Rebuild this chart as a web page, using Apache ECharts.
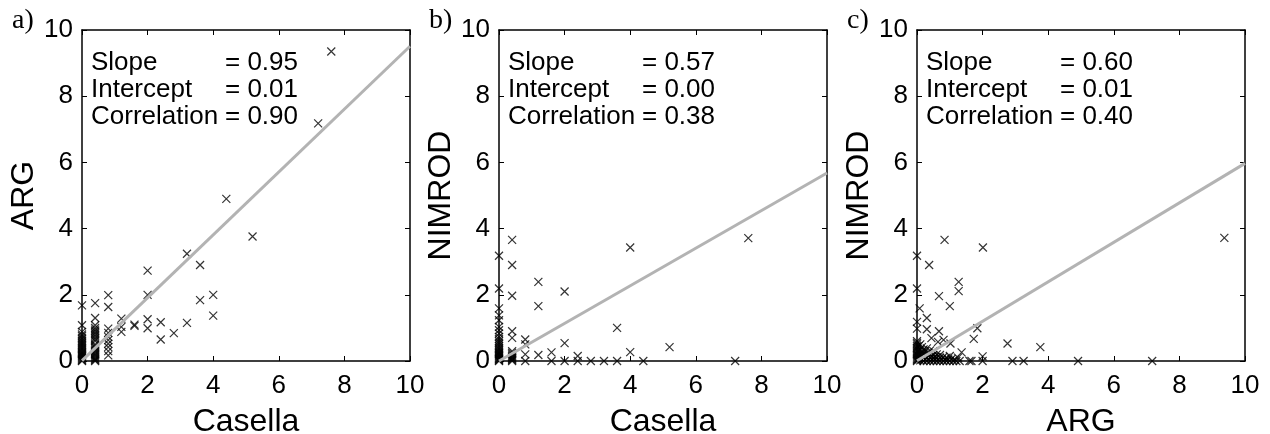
<!DOCTYPE html>
<html><head><meta charset="utf-8">
<script src="https://cdn.jsdelivr.net/npm/echarts@6/dist/echarts.min.js"></script>
<style>html,body{margin:0;padding:0;background:#fff}#c{width:1270px;height:434px}</style>
</head><body><div id="c"></div>
<script>
// ---------- data ----------
const panelLabels = ['a)', 'b)', 'c)'];
const xNames = ['Casella', 'Casella', 'ARG'];
const yNames = ['ARG', 'NIMROD', 'NIMROD'];
const tickValues = [0, 2, 4, 6, 8, 10];
const statNames = ['Slope', 'Intercept', 'Correlation'];
const slopes = ['0.95', '0.57', '0.60'];
const intercepts = ['0.01', '0.00', '0.01'];
const correlations = ['0.90', '0.38', '0.40'];

// regression lines
const fitA = [[0, 0.01], [10, 9.51]];
const fitB = [[0, 0.0], [10, 5.68]];
const fitC = [[0, 0.01], [10, 5.97]];

// a) Casella vs ARG
const pointsA = [
  [0,0],[0,0.02],[0,0.04],[0,0.07],[0,0.1],[0,0.13],[0,0.16],[0,0.19],[0,0.22],[0,0.25],[0,0.28],[0,0.32],
  [0,0.36],[0,0.4],[0,0.44],[0,0.48],[0,0.52],[0,0.56],[0,0.6],[0,0.65],[0,0.7],[0,0.75],[0,0.8],[0,0.88],
  [0,1.08],[0,1.68],
  [0.4,0],[0.4,0.03],[0.4,0.06],[0.4,0.1],[0.4,0.14],[0.4,0.18],[0.4,0.22],[0.4,0.26],[0.4,0.3],[0.4,0.34],
  [0.4,0.38],[0.4,0.42],[0.4,0.46],[0.4,0.5],[0.4,0.6],[0.4,0.65],[0.4,0.7],[0.4,0.75],[0.4,0.8],
  [0.4,0.85],[0.4,0.9],[0.4,0.95],[0.4,1.0],[0.4,1.08],[0.4,1.3],[0.4,1.75],
  [0.8,0.17],[0.8,0.3],[0.8,0.42],[0.8,0.52],[0.8,0.63],[0.8,0.73],[0.8,0.85],[0.8,0.98],[0.8,1.63],[0.8,1.99],
  [1.2,0.88],[1.2,1.03],[1.2,1.28],
  [1.6,1.06],[1.6,1.1],
  [2.0,0.99],[2.0,1.26],[2.0,2.0],[2.0,2.73],
  [2.4,0.65],[2.4,1.17],
  [2.8,0.84],
  [3.2,1.15],[3.2,3.24],
  [3.6,1.84],[3.6,2.9],
  [4.0,1.37],[4.0,2.0],
  [4.4,4.9],[5.2,3.76],[7.2,7.18],[7.6,9.35]
];

// b) Casella vs NIMROD
const pointsB = [
  [0,0],[0,0.02],[0,0.04],[0,0.06],[0,0.08],[0,0.1],[0,0.13],[0,0.16],[0,0.19],[0,0.22],[0,0.25],[0,0.28],
  [0,0.32],[0,0.36],[0,0.4],[0,0.45],[0,0.5],[0,0.55],[0,0.6],[0,0.66],[0,0.73],[0,0.83],[0,0.93],[0,1.03],
  [0,1.23],[0,1.38],[0,1.59],[0,2.19],[0,3.18],
  [0.4,0],[0.4,0.03],[0.4,0.06],[0.4,0.09],[0.4,0.12],[0.4,0.16],[0.4,0.2],[0.4,0.25],[0.4,0.3],
  [0.4,0.7],[0.4,0.9],[0.4,1.97],[0.4,2.9],[0.4,3.66],
  [0.8,0],[0.8,0.2],[0.8,0.5],[0.8,0.65],
  [1.2,0.18],[1.2,1.66],[1.2,2.39],
  [1.6,0],[1.6,0.26],
  [2.0,0],[2.0,0.54],[2.0,2.1],
  [2.4,0],[2.4,0.15],
  [2.8,0],[3.2,0],
  [3.6,0],[3.6,1.0],
  [4.0,0.27],[4.0,3.43],
  [4.4,0],[5.2,0.42],[7.2,0],[7.6,3.71]
];

// c) ARG vs NIMROD
const pointsC = [
  [0,0],[0,0.03],[0,0.06],[0,0.1],[0,0.14],[0,0.18],[0,0.22],[0,0.26],[0,0.3],[0,0.35],[0,0.4],[0,0.45],
  [0,0.5],[0,0.55],[0,0.6],[0,0.98],[0,1.18],[0,2.19],[0,3.18],
  [0.05,0.05],[0.05,0.15],[0.05,0.3],[0.05,0.45],[0.1,0.02],[0.1,0.1],[0.1,0.2],[0.1,0.35],[0.1,0.5],
  [0.15,0.05],[0.15,0.15],[0.15,0.28],[0.15,0.42],[0.2,0],[0.2,0.1],[0.2,0.22],[0.2,0.35],
  [0.25,0.05],[0.25,0.15],[0.25,0.3],[0.3,0],[0.3,0.1],[0.3,0.2],[0.3,0.38],[0.35,0.05],[0.35,0.15],
  [0.35,0.25],[0.4,0],[0.4,0.1],[0.4,0.2],[0.4,0.32],[0.45,0.04],[0.45,0.14],[0.5,0],[0.5,0.08],
  [0.5,0.18],[0.5,0.3],[0.55,0.05],[0.55,0.12],[0.6,0],[0.6,0.1],[0.6,0.2],[0.65,0.04],[0.7,0],
  [0.7,0.1],[0.7,0.18],[0.75,0.05],[0.8,0],[0.8,0.12],[0.85,0.04],[0.9,0],[0.9,0.1],[0.95,0.05],
  [1.0,0],[1.0,0.15],[1.05,0.06],[1.1,0],[1.15,0.04],[1.2,0],[1.25,0.1],[1.3,0],
  [0.08,1.59],[0.3,0.96],[0.3,1.3],[0.37,2.9],[0.44,0.69],[0.64,0.58],[0.67,0.9],[0.67,1.96],
  [0.81,0.64],[0.84,3.66],[1.0,1.66],[1.02,0.53],[1.27,2.11],[1.27,2.39],[1.36,0.26],
  [1.6,0],[1.66,0],[1.73,0.67],[1.84,0.99],[2.0,0],[2.0,0.14],[2.01,3.43],[2.76,0.53],
  [2.91,0],[3.25,0],[3.76,0.42],[4.91,0],[7.17,0],[9.37,3.72]
];

const allPoints = [pointsA, pointsB, pointsC];
const allFits = [fitA, fitB, fitC];

// ---------- layout ----------
const gridLefts = [82, 499, 917];
const gridTop = 30, gridW = 328, gridH = 331;
const FONT = '"Liberation Sans", Arial, sans-serif';
const crossPath = 'path://M0,0L10,10M10,0L0,10';

const grids = [], xAxes = [], yAxes = [], series = [], graphics = [];
gridLefts.forEach((gl, i) => {
  grids.push({left: gl, top: gridTop, width: gridW, height: gridH, containLabel: false, outerBoundsMode: 'none'});
  const common = {
    type: 'value', min: 0, max: 10, interval: 2, gridIndex: i,
    axisLine: {show: true, onZero: false, lineStyle: {color: '#000', width: 1.5}},
    axisTick: {show: true, inside: true, length: 5, lineStyle: {color: '#000', width: 1}},
    splitLine: {show: false}
  };
  xAxes.push(Object.assign({}, common, {
    position: 'bottom', name: xNames[i], nameLocation: 'middle', nameGap: 45,
    nameTextStyle: {color: '#000', fontSize: 32, fontFamily: FONT},
    axisLabel: {color: '#000', fontSize: 26, fontFamily: FONT, margin: 12, showMinLabel: true, showMaxLabel: true}
  }));
  xAxes.push(Object.assign({}, common, {position: 'top', axisLabel: {show: false}}));
  yAxes.push(Object.assign({}, common, {
    position: 'left', name: yNames[i], nameLocation: 'middle', nameGap: 42, nameRotate: 90,
    nameTextStyle: {color: '#000', fontSize: 32, fontFamily: FONT},
    axisLabel: {color: '#000', fontSize: 26, fontFamily: FONT, margin: 9, showMinLabel: true, showMaxLabel: true}
  }));
  yAxes.push(Object.assign({}, common, {position: 'right', axisLabel: {show: false}}));

  series.push({
    type: 'scatter', xAxisIndex: 2 * i, yAxisIndex: 2 * i,
    data: allPoints[i], symbol: crossPath, symbolSize: 8,
    itemStyle: {color: 'rgba(0,0,0,0)', borderColor: '#000', borderWidth: 1.2},
    emphasis: {disabled: true}, silent: true, z: 2
  });
  series.push({
    type: 'line', xAxisIndex: 2 * i, yAxisIndex: 2 * i,
    data: allFits[i], showSymbol: false, symbol: 'none',
    lineStyle: {color: '#b3b3b3', width: 3}, silent: true, z: 3
  });

  graphics.push({type: 'text', left: gl - 70, top: 7,
    style: {text: panelLabels[i], font: '28px "Liberation Serif", "Times New Roman", serif', fill: '#000'}});
  const vals = [slopes[i], intercepts[i], correlations[i]];
  const tops = [50, 77, 104];
  statNames.forEach((nm, j) => {
    graphics.push({type: 'text', left: gl + 9, top: tops[j],
      style: {text: nm, font: '26px ' + FONT, fill: '#000'}});
    graphics.push({type: 'text', left: gl + 143, top: tops[j],
      style: {text: '= ' + vals[j], font: '26px ' + FONT, fill: '#000'}});
  });
});

const chart = echarts.init(document.getElementById('c'), null, {renderer: 'canvas'});
chart.setOption({
  animation: false,
  backgroundColor: '#fff',
  grid: grids, xAxis: xAxes, yAxis: yAxes, series: series,
  graphic: graphics
});
</script>
</body></html>
